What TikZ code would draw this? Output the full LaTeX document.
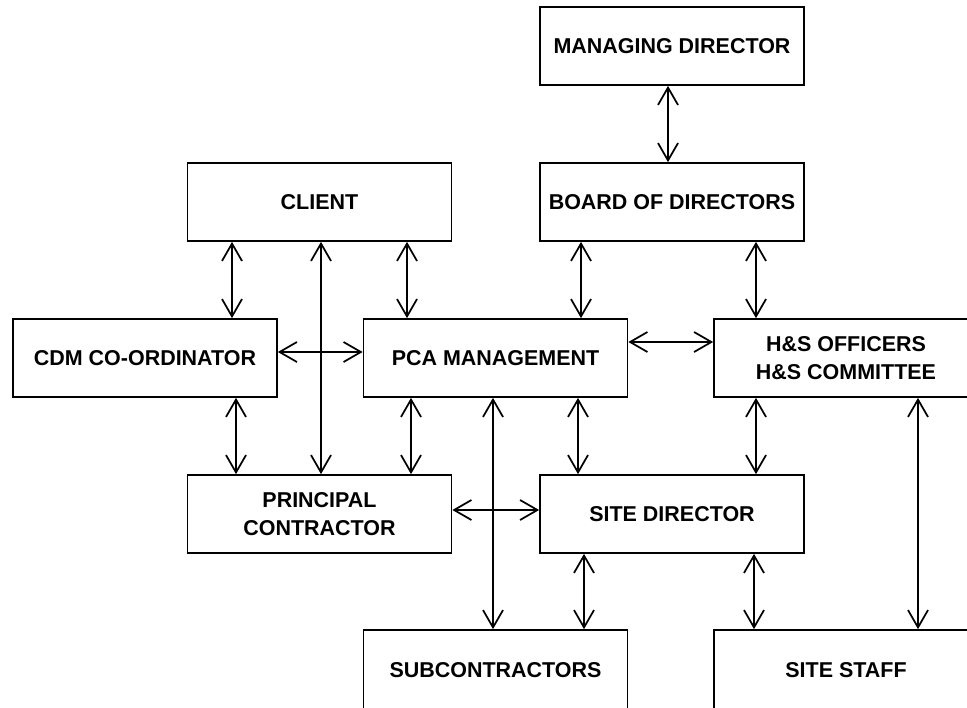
\documentclass[tikz,border=0pt]{standalone}
\usepackage{fontspec}
\setmainfont{Liberation Sans}
\usetikzlibrary{arrows.meta}
\begin{document}
\begin{tikzpicture}[x=0.75pt,y=-0.75pt,
  box/.style={draw, line width=1.3pt, minimum width=198pt, minimum height=58.5pt,
    inner sep=0pt, align=center, font=\fontsize{16.1}{21}\selectfont\bfseries},
  openbox/.style={box, minimum height=63pt},
  dbl/.style={line width=1.3pt,
    {Straight Barb[length=13pt,width=15pt]}-{Straight Barb[length=13pt,width=15pt]}}]
\useasboundingbox (0,0) rectangle (967,707);
\clip (0,0) rectangle (967,707);
\node[box] (md) at (672,46) {MANAGING DIRECTOR};
\node[box] (bod) at (672,202) {BOARD OF DIRECTORS};
\node[box] (client) at (319.5,202) {CLIENT};
\node[box] (cdm) at (145,358) {CDM CO-ORDINATOR};
\node[box] (pca) at (495.5,358) {PCA MANAGEMENT};
\node[box] (hs) at (846,358) {H\&S OFFICERS\\H\&S COMMITTEE};
\node[box] (pc) at (319.5,514) {PRINCIPAL\\CONTRACTOR};
\node[box] (sd) at (672,514) {SITE DIRECTOR};
\node[openbox] (sub) at (495.5,672) {\raisebox{3pt}{SUBCONTRACTORS}};
\node[openbox] (staff) at (846,672) {\raisebox{3pt}{SITE STAFF}};
% vertical connectors
\draw[dbl] (md.south -| 668,0) -- (bod.north -| 668,0);
\draw[dbl] (client.south -| 232,0) -- (cdm.north -| 232,0);
\draw[dbl] (client.south -| 321,0) -- (pc.north -| 321,0);
\draw[dbl] (client.south -| 407,0) -- (pca.north -| 407,0);
\draw[dbl] (bod.south -| 581,0) -- (pca.north -| 581,0);
\draw[dbl] (bod.south -| 756,0) -- (hs.north -| 756,0);
\draw[dbl] (cdm.south -| 236,0) -- (pc.north -| 236,0);
\draw[dbl] (pca.south -| 411,0) -- (pc.north -| 411,0);
\draw[dbl] (pca.south -| 493,0) -- (sub.north -| 493,0);
\draw[dbl] (pca.south -| 578,0) -- (sd.north -| 578,0);
\draw[dbl] (hs.south -| 756,0) -- (sd.north -| 756,0);
\draw[dbl] (hs.south -| 918,0) -- (staff.north -| 918,0);
\draw[dbl] (sd.south -| 584,0) -- (sub.north -| 584,0);
\draw[dbl] (sd.south -| 754,0) -- (staff.north -| 754,0);
% horizontal connectors
\draw[dbl] (cdm.east |- 0,352) -- (pca.west |- 0,352);
\draw[dbl] (pca.east |- 0,342) -- (hs.west |- 0,342);
\draw[dbl] (pc.east |- 0,510) -- (sd.west |- 0,510);
\end{tikzpicture}
\end{document}
